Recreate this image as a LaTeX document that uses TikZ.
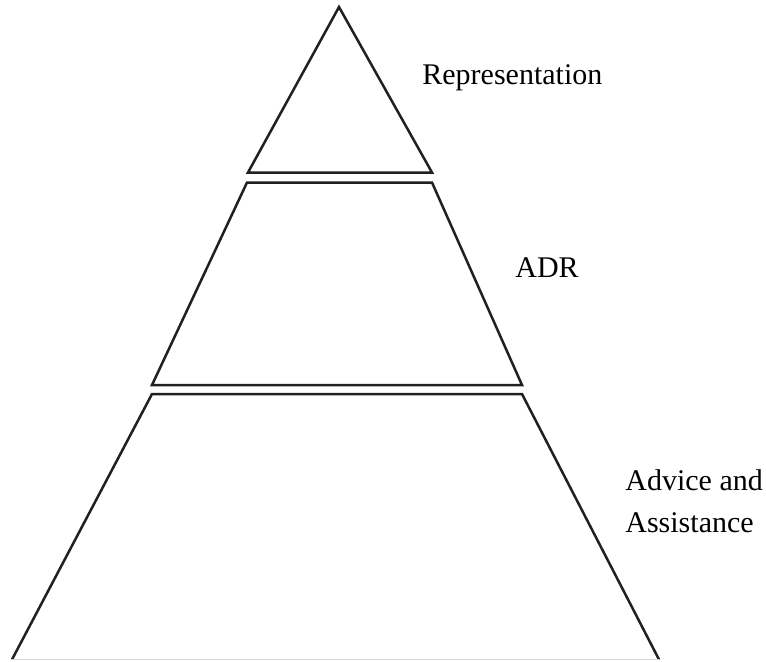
\documentclass[tikz,border=0pt]{standalone}
\usepackage{fontspec}
\setmainfont{Liberation Serif}
\usepackage{xcolor}
\usepackage{tikz}

\begin{document}
\begin{tikzpicture}[x=0.5pt,y=-0.5pt]

% Colori
\definecolor{lineDark}{HTML}{231F20}
\definecolor{lineLight}{HTML}{D6D6D6}

% Area del disegno (pixel)
\useasboundingbox (0,0) rectangle (766,661);

% Livello alto (triangolo)
\path[draw=lineDark, line width=1.25pt, line join=miter]
(248,172.5) -- (339,7) -- (432,172.5) -- cycle;

% Livello medio
\path[draw=lineDark, line width=1.25pt, line join=miter]
(152,385) -- (247,182.5) -- (432,182.5) -- (522,385) -- cycle;

% Livello basso
\path[draw=lineDark, line width=1.25pt, line join=miter]
(12,659.5) -- (152,394) -- (522,394) -- (659,659.5);
\draw[lineLight, line width=0.6pt] (12,659.5) -- (659,659.5);

% Etichette
\node[anchor=base west, inner sep=0pt, font=\fontsize{15pt}{21pt}\selectfont]
(repr) at (422,84) {Representation};
\node[anchor=base west, inner sep=0pt, font=\fontsize{15pt}{21pt}\selectfont]
(adr) at (515,277) {ADR};
\node[anchor=base west, inner sep=0pt, align=left, font=\fontsize{15pt}{21pt}\selectfont]
(advice) at (625,532) {Advice and\\Assistance};

\end{tikzpicture}
\end{document}
